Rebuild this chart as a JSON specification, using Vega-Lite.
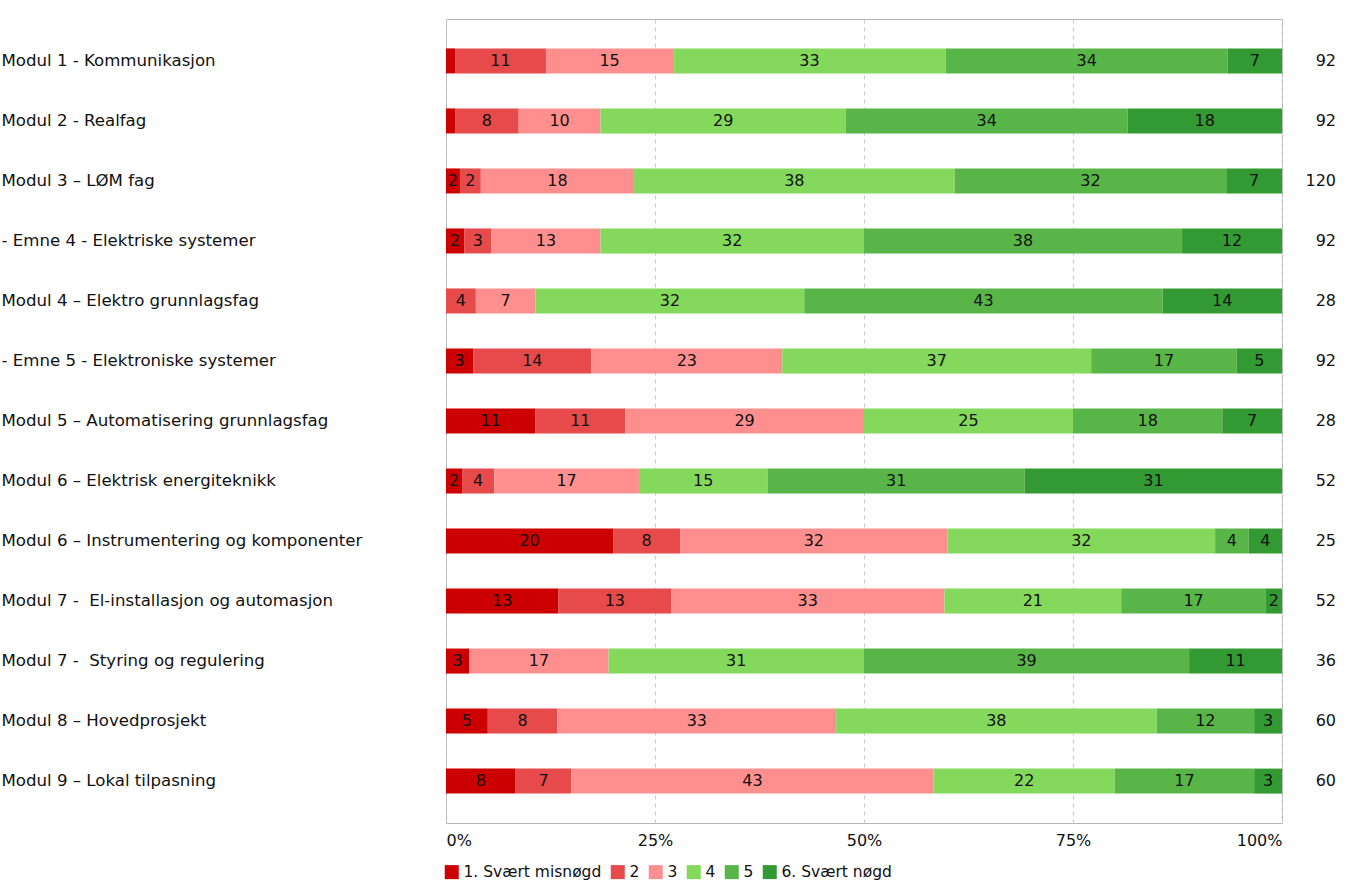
{
  "$schema": "https://vega.github.io/schema/vega-lite/v6.json",
  "padding": {"left": 0, "top": 18, "right": 0, "bottom": 0},
  "config": {
    "font": "DejaVu Sans",
    "axis": {"labelFont": "DejaVu Sans", "labelFontSize": 16, "labelColor": "#111"},
    "legend": {"labelFont": "DejaVu Sans", "labelFontSize": 15.5, "labelColor": "#111"}
  },
  "data": {"values": [
    {"row": 1, "label": "Modul 1 - Kommunikasjon", "cat": "1. Svært misnøgd", "n": 1, "pct": 1},
    {"row": 1, "label": "Modul 1 - Kommunikasjon", "cat": "2", "n": 10, "pct": 11},
    {"row": 1, "label": "Modul 1 - Kommunikasjon", "cat": "3", "n": 14, "pct": 15},
    {"row": 1, "label": "Modul 1 - Kommunikasjon", "cat": "4", "n": 30, "pct": 33},
    {"row": 1, "label": "Modul 1 - Kommunikasjon", "cat": "5", "n": 31, "pct": 34},
    {"row": 1, "label": "Modul 1 - Kommunikasjon", "cat": "6. Svært nøgd", "n": 6, "pct": 7},
    {"row": 2, "label": "Modul 2 - Realfag", "cat": "1. Svært misnøgd", "n": 1, "pct": 1},
    {"row": 2, "label": "Modul 2 - Realfag", "cat": "2", "n": 7, "pct": 8},
    {"row": 2, "label": "Modul 2 - Realfag", "cat": "3", "n": 9, "pct": 10},
    {"row": 2, "label": "Modul 2 - Realfag", "cat": "4", "n": 27, "pct": 29},
    {"row": 2, "label": "Modul 2 - Realfag", "cat": "5", "n": 31, "pct": 34},
    {"row": 2, "label": "Modul 2 - Realfag", "cat": "6. Svært nøgd", "n": 17, "pct": 18},
    {"row": 3, "label": "Modul 3 – LØM fag", "cat": "1. Svært misnøgd", "n": 2, "pct": 2},
    {"row": 3, "label": "Modul 3 – LØM fag", "cat": "2", "n": 3, "pct": 2},
    {"row": 3, "label": "Modul 3 – LØM fag", "cat": "3", "n": 22, "pct": 18},
    {"row": 3, "label": "Modul 3 – LØM fag", "cat": "4", "n": 46, "pct": 38},
    {"row": 3, "label": "Modul 3 – LØM fag", "cat": "5", "n": 39, "pct": 32},
    {"row": 3, "label": "Modul 3 – LØM fag", "cat": "6. Svært nøgd", "n": 8, "pct": 7},
    {"row": 4, "label": "- Emne 4 - Elektriske systemer", "cat": "1. Svært misnøgd", "n": 2, "pct": 2},
    {"row": 4, "label": "- Emne 4 - Elektriske systemer", "cat": "2", "n": 3, "pct": 3},
    {"row": 4, "label": "- Emne 4 - Elektriske systemer", "cat": "3", "n": 12, "pct": 13},
    {"row": 4, "label": "- Emne 4 - Elektriske systemer", "cat": "4", "n": 29, "pct": 32},
    {"row": 4, "label": "- Emne 4 - Elektriske systemer", "cat": "5", "n": 35, "pct": 38},
    {"row": 4, "label": "- Emne 4 - Elektriske systemer", "cat": "6. Svært nøgd", "n": 11, "pct": 12},
    {"row": 5, "label": "Modul 4 – Elektro grunnlagsfag", "cat": "2", "n": 1, "pct": 4},
    {"row": 5, "label": "Modul 4 – Elektro grunnlagsfag", "cat": "3", "n": 2, "pct": 7},
    {"row": 5, "label": "Modul 4 – Elektro grunnlagsfag", "cat": "4", "n": 9, "pct": 32},
    {"row": 5, "label": "Modul 4 – Elektro grunnlagsfag", "cat": "5", "n": 12, "pct": 43},
    {"row": 5, "label": "Modul 4 – Elektro grunnlagsfag", "cat": "6. Svært nøgd", "n": 4, "pct": 14},
    {"row": 6, "label": "- Emne 5 - Elektroniske systemer", "cat": "1. Svært misnøgd", "n": 3, "pct": 3},
    {"row": 6, "label": "- Emne 5 - Elektroniske systemer", "cat": "2", "n": 13, "pct": 14},
    {"row": 6, "label": "- Emne 5 - Elektroniske systemer", "cat": "3", "n": 21, "pct": 23},
    {"row": 6, "label": "- Emne 5 - Elektroniske systemer", "cat": "4", "n": 34, "pct": 37},
    {"row": 6, "label": "- Emne 5 - Elektroniske systemer", "cat": "5", "n": 16, "pct": 17},
    {"row": 6, "label": "- Emne 5 - Elektroniske systemer", "cat": "6. Svært nøgd", "n": 5, "pct": 5},
    {"row": 7, "label": "Modul 5 – Automatisering grunnlagsfag", "cat": "1. Svært misnøgd", "n": 3, "pct": 11},
    {"row": 7, "label": "Modul 5 – Automatisering grunnlagsfag", "cat": "2", "n": 3, "pct": 11},
    {"row": 7, "label": "Modul 5 – Automatisering grunnlagsfag", "cat": "3", "n": 8, "pct": 29},
    {"row": 7, "label": "Modul 5 – Automatisering grunnlagsfag", "cat": "4", "n": 7, "pct": 25},
    {"row": 7, "label": "Modul 5 – Automatisering grunnlagsfag", "cat": "5", "n": 5, "pct": 18},
    {"row": 7, "label": "Modul 5 – Automatisering grunnlagsfag", "cat": "6. Svært nøgd", "n": 2, "pct": 7},
    {"row": 8, "label": "Modul 6 – Elektrisk energiteknikk", "cat": "1. Svært misnøgd", "n": 1, "pct": 2},
    {"row": 8, "label": "Modul 6 – Elektrisk energiteknikk", "cat": "2", "n": 2, "pct": 4},
    {"row": 8, "label": "Modul 6 – Elektrisk energiteknikk", "cat": "3", "n": 9, "pct": 17},
    {"row": 8, "label": "Modul 6 – Elektrisk energiteknikk", "cat": "4", "n": 8, "pct": 15},
    {"row": 8, "label": "Modul 6 – Elektrisk energiteknikk", "cat": "5", "n": 16, "pct": 31},
    {"row": 8, "label": "Modul 6 – Elektrisk energiteknikk", "cat": "6. Svært nøgd", "n": 16, "pct": 31},
    {"row": 9, "label": "Modul 6 – Instrumentering og komponenter", "cat": "1. Svært misnøgd", "n": 5, "pct": 20},
    {"row": 9, "label": "Modul 6 – Instrumentering og komponenter", "cat": "2", "n": 2, "pct": 8},
    {"row": 9, "label": "Modul 6 – Instrumentering og komponenter", "cat": "3", "n": 8, "pct": 32},
    {"row": 9, "label": "Modul 6 – Instrumentering og komponenter", "cat": "4", "n": 8, "pct": 32},
    {"row": 9, "label": "Modul 6 – Instrumentering og komponenter", "cat": "5", "n": 1, "pct": 4},
    {"row": 9, "label": "Modul 6 – Instrumentering og komponenter", "cat": "6. Svært nøgd", "n": 1, "pct": 4},
    {"row": 10, "label": "Modul 7 -\u00a0 El-installasjon og automasjon", "cat": "1. Svært misnøgd", "n": 7, "pct": 13},
    {"row": 10, "label": "Modul 7 -\u00a0 El-installasjon og automasjon", "cat": "2", "n": 7, "pct": 13},
    {"row": 10, "label": "Modul 7 -\u00a0 El-installasjon og automasjon", "cat": "3", "n": 17, "pct": 33},
    {"row": 10, "label": "Modul 7 -\u00a0 El-installasjon og automasjon", "cat": "4", "n": 11, "pct": 21},
    {"row": 10, "label": "Modul 7 -\u00a0 El-installasjon og automasjon", "cat": "5", "n": 9, "pct": 17},
    {"row": 10, "label": "Modul 7 -\u00a0 El-installasjon og automasjon", "cat": "6. Svært nøgd", "n": 1, "pct": 2},
    {"row": 11, "label": "Modul 7 -\u00a0 Styring og regulering", "cat": "1. Svært misnøgd", "n": 1, "pct": 3},
    {"row": 11, "label": "Modul 7 -\u00a0 Styring og regulering", "cat": "3", "n": 6, "pct": 17},
    {"row": 11, "label": "Modul 7 -\u00a0 Styring og regulering", "cat": "4", "n": 11, "pct": 31},
    {"row": 11, "label": "Modul 7 -\u00a0 Styring og regulering", "cat": "5", "n": 14, "pct": 39},
    {"row": 11, "label": "Modul 7 -\u00a0 Styring og regulering", "cat": "6. Svært nøgd", "n": 4, "pct": 11},
    {"row": 12, "label": "Modul 8 – Hovedprosjekt", "cat": "1. Svært misnøgd", "n": 3, "pct": 5},
    {"row": 12, "label": "Modul 8 – Hovedprosjekt", "cat": "2", "n": 5, "pct": 8},
    {"row": 12, "label": "Modul 8 – Hovedprosjekt", "cat": "3", "n": 20, "pct": 33},
    {"row": 12, "label": "Modul 8 – Hovedprosjekt", "cat": "4", "n": 23, "pct": 38},
    {"row": 12, "label": "Modul 8 – Hovedprosjekt", "cat": "5", "n": 7, "pct": 12},
    {"row": 12, "label": "Modul 8 – Hovedprosjekt", "cat": "6. Svært nøgd", "n": 2, "pct": 3},
    {"row": 13, "label": "Modul 9 – Lokal tilpasning", "cat": "1. Svært misnøgd", "n": 5, "pct": 8},
    {"row": 13, "label": "Modul 9 – Lokal tilpasning", "cat": "2", "n": 4, "pct": 7},
    {"row": 13, "label": "Modul 9 – Lokal tilpasning", "cat": "3", "n": 26, "pct": 43},
    {"row": 13, "label": "Modul 9 – Lokal tilpasning", "cat": "4", "n": 13, "pct": 22},
    {"row": 13, "label": "Modul 9 – Lokal tilpasning", "cat": "5", "n": 10, "pct": 17},
    {"row": 13, "label": "Modul 9 – Lokal tilpasning", "cat": "6. Svært nøgd", "n": 2, "pct": 3}
  ]},
  "spacing": 0,
  "resolve": {"scale": {"x": "independent", "y": "independent"}},
  "hconcat": [
    {
      "width": 836,
      "height": 804,
      "view": {"stroke": "#b4b4b4", "strokeWidth": 1},
      "encoding": {
        "y": {
          "field": "label", "type": "nominal",
          "sort": {"field": "row", "op": "min"},
          "scale": {"type": "band", "paddingInner": 0.583, "paddingOuter": 0.49},
          "axis": {"title": null, "ticks": false, "domain": false, "labelAlign": "left", "labelPadding": 445, "labelLimit": 440, "labelFontSize": 16.6}
        }
      },
      "layer": [
        {
          "mark": {"type": "bar"},
          "encoding": {
            "x": {
              "field": "n", "type": "quantitative", "stack": "normalize",
              "scale": {"domain": [0, 1]},
              "axis": {"title": null, "format": "%", "values": [0, 0.25, 0.5, 0.75, 1], "labelFlush": true, "grid": true, "gridDash": [4, 4], "gridColor": "#c8c8c8", "ticks": false, "domain": false, "labelPadding": 9, "labelFontSize": 16}
            },
            "color": {
              "field": "cat", "type": "nominal",
              "scale": {
                "domain": ["1. Svært misnøgd", "2", "3", "4", "5", "6. Svært nøgd"],
                "range": ["#cc0000", "#e64a4a", "#ff8f8f", "#84d85c", "#5ab548", "#339933"]
              },
              "legend": {"title": null, "orient": "none", "legendX": -2, "legendY": 845, "direction": "horizontal", "symbolType": "square", "symbolSize": 196, "symbolStrokeWidth": 0, "symbolOpacity": 1, "labelFontSize": 15.5, "columnPadding": 8, "labelOffset": 4}
            },
            "order": {"field": "cat", "type": "ordinal"}
          }
        },
        {
          "mark": {"type": "text", "fontSize": 16, "baseline": "middle", "align": "center", "color": "#111"},
          "encoding": {
            "x": {"field": "n", "type": "quantitative", "stack": "normalize", "bandPosition": 0.5},
            "detail": {"field": "cat", "type": "nominal"},
            "order": {"field": "cat", "type": "ordinal"},
            "text": {"condition": {"test": "datum.pct < 2", "value": ""}, "field": "pct", "type": "quantitative"}
          }
        }
      ]
    },
    {
      "width": 53,
      "height": 804,
      "view": {"stroke": null},
      "transform": [{"aggregate": [{"op": "sum", "field": "n", "as": "N"}], "groupby": ["label", "row"]}],
      "mark": {"type": "text", "align": "right", "baseline": "middle", "fontSize": 16, "color": "#111"},
      "encoding": {
        "y": {
          "field": "label", "type": "nominal",
          "sort": {"field": "row", "op": "min"},
          "scale": {"type": "band", "paddingInner": 0.583, "paddingOuter": 0.49},
          "axis": null
        },
        "x": {"datum": 1, "type": "quantitative", "scale": {"domain": [0, 1]}, "axis": null},
        "text": {"field": "N", "type": "quantitative"}
      }
    }
  ]
}
